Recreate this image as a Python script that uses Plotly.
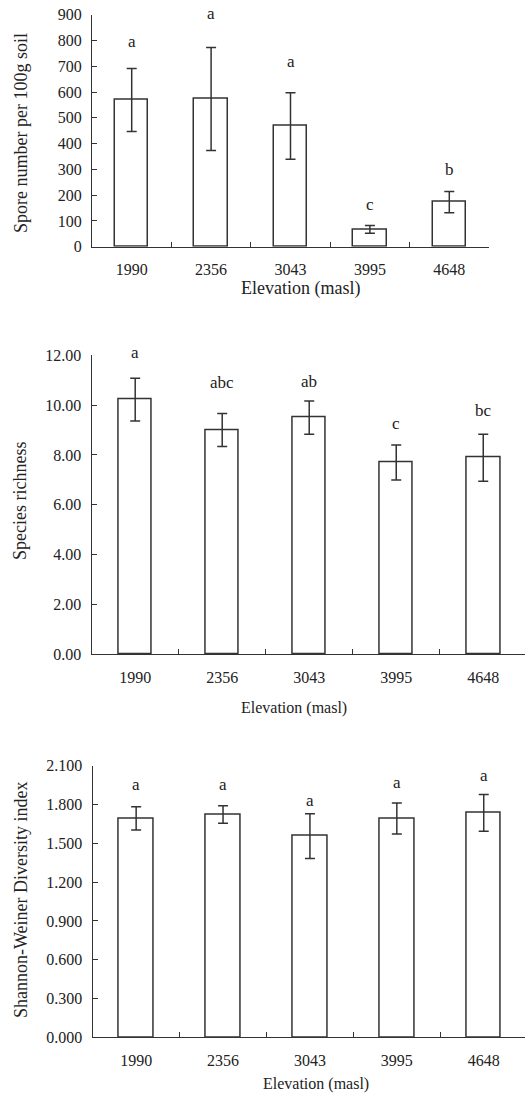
import plotly.graph_objects as go

# Elevation sites (m a.s.l.)
elevations = ["1990", "2356", "3043", "3995", "4648"]

# Spore density (per 100 g soil): mean and standard error
spore_mean = [569, 573, 468, 67, 173]
spore_err = [122, 200, 129, 15, 41]
spore_groups = ["a", "a", "a", "c", "b"]

# Species richness: mean and standard error
richness_mean = [10.22, 9.00, 9.50, 7.70, 7.89]
richness_err = [0.86, 0.66, 0.67, 0.70, 0.94]
richness_groups = ["a", "abc", "ab", "c", "bc"]

# Shannon-Weiner diversity index: mean and standard error
shannon_mean = [1.692, 1.723, 1.556, 1.692, 1.736]
shannon_err = [0.090, 0.068, 0.173, 0.120, 0.142]
shannon_groups = ["a", "a", "a", "a", "a"]

FONT = "Liberation Serif, Times New Roman, serif"
INK = "#333333"
TXT = "#222222"
W, H = 525, 1095


def px_x(p):
    return p / W


def px_y(p):
    return 1 - p / H


fig = go.Figure()

# letter_shift: pixel gap between the top of the error bar and the letter centre
panels = [
    dict(mean=spore_mean, err=spore_err, groups=spore_groups,
         letter_shift=[27, 34, 31, 21, 22], bar_w=0.42,
         xd=[92, 489], xr=[-0.5, 4.5], yd=[14.7, 246.7],
         yr=[0, 900], dtick=100, fmt="d",
         ytitle="Spore number per 100g soil", ytpos=(21, 133),
         xtpos=(300, 288), xtsize=18),
    dict(mean=richness_mean, err=richness_err, groups=richness_groups,
         letter_shift=[26, 31, 19, 21, 24], bar_w=0.39,
         xd=[91.7, 525], xr=[-0.5, 4.48], yd=[355.3, 654.3],
         yr=[0, 12], dtick=2, fmt=".2f",
         ytitle="Species richness", ytpos=(20, 501),
         xtpos=(294, 708), xtsize=16),
    dict(mean=shannon_mean, err=shannon_err, groups=shannon_groups,
         letter_shift=[22, 21, 13, 20, 19], bar_w=0.40,
         xd=[92.7, 525], xr=[-0.5, 4.475], yd=[765.7, 1037.3],
         yr=[0, 2.1], dtick=0.3, fmt=".3f",
         ytitle="Shannon-Weiner Diversity index", ytpos=(21, 900),
         xtpos=(316, 1084), xtsize=16),
]

annotations = []
for i, p in enumerate(panels, start=1):
    sfx = "" if i == 1 else str(i)
    xref, yref = "x" + sfx, "y" + sfx
    fig.add_trace(go.Bar(
        x=elevations, y=p["mean"], width=p["bar_w"],
        marker=dict(color="white", line=dict(color=INK, width=1.5)),
        error_y=dict(type="data", array=p["err"], visible=True,
                     color=INK, thickness=1.5, width=5),
        xaxis=xref, yaxis=yref, showlegend=False, hoverinfo="skip",
    ))
    fig.layout["xaxis" + sfx] = dict(
        domain=[px_x(p["xd"][0]), px_x(p["xd"][1])],
        range=p["xr"], type="category", anchor=yref, automargin=False,
        showline=True, linecolor=INK, linewidth=1.3,
        ticks="inside", tickson="boundaries", ticklen=5,
        tickcolor=INK, tickwidth=1.3, showgrid=False, zeroline=False,
        tickfont=dict(family=FONT, size=16, color=TXT),
        ticklabelstandoff=8,
    )
    fig.layout["yaxis" + sfx] = dict(
        domain=[px_y(p["yd"][1]), px_y(p["yd"][0])],
        range=p["yr"], dtick=p["dtick"], tick0=0, tickformat=p["fmt"],
        anchor=xref, automargin=False,
        showline=True, linecolor=INK, linewidth=1.3,
        ticks="inside", ticklen=5, tickcolor=INK, tickwidth=1.3,
        showgrid=False, zeroline=False,
        tickfont=dict(family=FONT, size=16, color=TXT),
        ticklabelstandoff=6,
    )
    # significance letters above each error bar (x given as category index)
    for idx, (m, e, letter, sh) in enumerate(
            zip(p["mean"], p["err"], p["groups"], p["letter_shift"])):
        annotations.append(dict(
            x=idx, y=m + e, xref=xref, yref=yref, text=letter, yshift=sh,
            showarrow=False, xanchor="center", yanchor="middle",
            font=dict(family=FONT, size=17, color=TXT),
        ))
    # axis titles
    annotations.append(dict(
        x=px_x(p["ytpos"][0]), y=px_y(p["ytpos"][1]), xref="paper", yref="paper",
        text=p["ytitle"], textangle=-90, showarrow=False,
        xanchor="center", yanchor="middle",
        font=dict(family=FONT, size=18, color=TXT),
    ))
    annotations.append(dict(
        x=px_x(p["xtpos"][0]), y=px_y(p["xtpos"][1]), xref="paper", yref="paper",
        text="Elevation (masl)", showarrow=False,
        xanchor="center", yanchor="middle",
        font=dict(family=FONT, size=p["xtsize"], color=TXT),
    ))

fig.update_layout(
    width=W, height=H,
    margin=dict(l=0, r=0, t=0, b=0, autoexpand=False),
    paper_bgcolor="white", plot_bgcolor="white",
    annotations=annotations,
    bargap=0,
)

# page without default body margin so the figure fills the window exactly
fig.write_html("out.html", post_script="document.body.style.margin='0';")
